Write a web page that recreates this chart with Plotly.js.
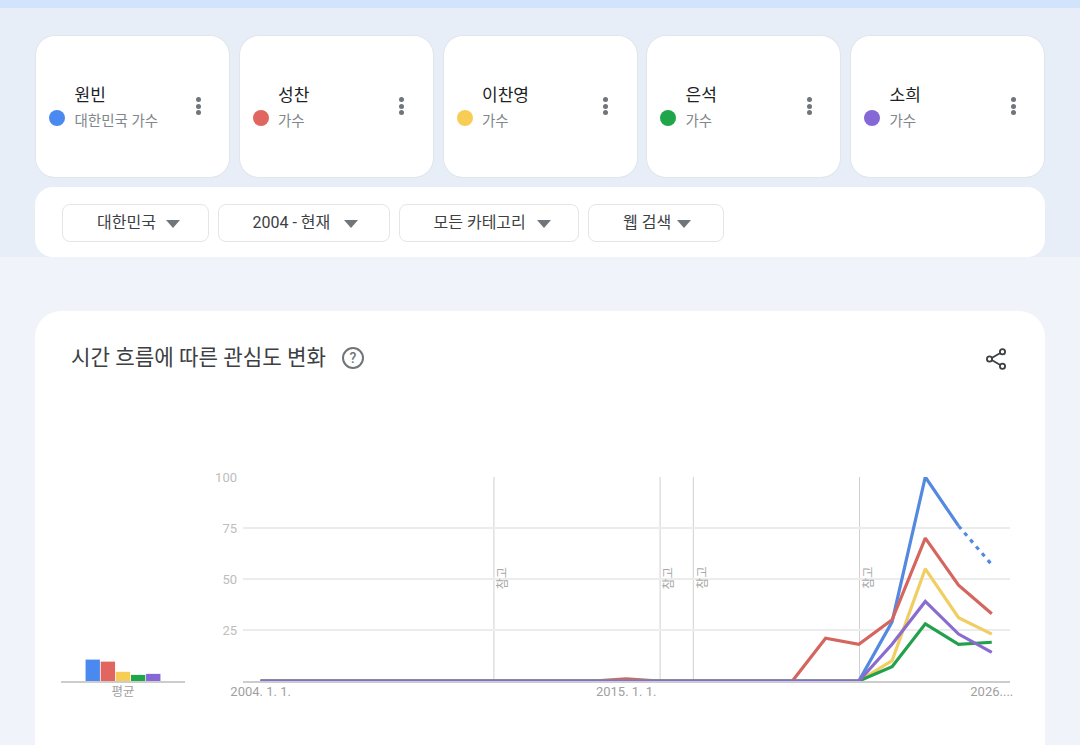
<!DOCTYPE html>
<html lang="ko">
<head>
<meta charset="utf-8">
<script src="https://cdn.plot.ly/plotly-3.0.1.min.js"></script>
<style>
html,body{margin:0;padding:0;width:1080px;height:745px;overflow:hidden;background:#f0f3f9;font-family:"Roboto","Noto Sans CJK KR",sans-serif}
.abs{position:absolute}
.card{position:absolute;top:36px;height:141px;width:193px;background:#fff;border-radius:19px;box-shadow:0 0 0 1px #e1e5ec}
.dot{position:absolute;left:13px;top:74px;width:16px;height:16px;border-radius:50%}
.nm{position:absolute;left:38.5px;top:47px;font-size:17px;line-height:24px;color:#202124;white-space:nowrap}
.sb{position:absolute;left:38.5px;top:75px;font-size:14.5px;line-height:22px;color:#80868b;white-space:nowrap}
.mn{position:absolute;left:159.5px;top:61px;width:5px;height:18px}
.mn i{display:block;width:5px;height:5px;border-radius:50%;background:#70757a;margin-bottom:1.5px}
.pill{position:absolute;top:203.5px;height:36px;background:#fff;border:1px solid #e3e5e9;border-radius:8px;color:#3c4043;font-size:16px;line-height:36px;white-space:nowrap}
.pill span{position:absolute;top:0}
.pill b{position:absolute;top:15px;width:0;height:0;border-left:7.5px solid transparent;border-right:7.5px solid transparent;border-top:8px solid #70757a}
#chart{position:absolute;left:0;top:0;width:1080px;height:745px}
</style>
</head>
<body>
<div class="abs" style="left:0;top:0;width:1080px;height:8px;background:#d2e3fc"></div>
<div class="abs" style="left:0;top:8px;width:1080px;height:249px;background:#e8eef7"></div>
<div id="cards"></div>
<div class="abs" style="left:35px;top:187px;width:1010px;height:70px;background:#fff;border-radius:18px"></div>
<div id="pills"></div>
<div class="abs" style="left:35px;top:311px;width:1010px;height:460px;background:#fff;border-radius:26px"></div>
<svg class="abs" style="left:341px;top:346px" width="24" height="24" viewBox="0 0 24 24">
  <circle cx="12" cy="12" r="10" fill="none" stroke="#70757a" stroke-width="2"/>
  <text x="12" y="17" text-anchor="middle" font-size="14" font-family="Roboto" font-weight="500" fill="#70757a">?</text>
</svg>
<svg class="abs" style="left:984px;top:347px" width="24" height="24" viewBox="0 0 24 24">
  <path d="M6 12 L18 5 M6 12 L18 19" stroke="#3c4043" stroke-width="1.8" fill="none"/>
  <circle cx="5.5" cy="12" r="2.6" fill="#fff" stroke="#3c4043" stroke-width="1.8"/>
  <circle cx="18.5" cy="4.8" r="2.6" fill="#fff" stroke="#3c4043" stroke-width="1.8"/>
  <circle cx="18.5" cy="19.2" r="2.6" fill="#fff" stroke="#3c4043" stroke-width="1.8"/>
</svg>
<div id="chart"></div>
<script>
const seriesNames = ["원빈","성찬","이찬영","은석","소희"];
const seriesSubs = ["대한민국 가수","가수","가수","가수","가수"];
const seriesColors = ["#4a8af0","#e0665f","#f8cd56","#1fa64b","#8568d6"];
const lineColors = ["#5389e0","#d4665f","#f0ce62","#23a04c","#8a6cd0"];
const filterLabels = ["대한민국","2004 - 현재","모든 카테고리","웹 검색"];
const years = [2004,2005,2006,2007,2008,2009,2010,2011,2012,2013,2014,2015,2016,2017,2018,2019,2020,2021,2022,2023,2024,2025,2026];
const wonbin   = [0,0,0,0,0,0,0,0,0,0,0,0,0,0,0,0,0,0,0,29,100,76,null];
const wonbinPartial = [null,null,null,null,null,null,null,null,null,null,null,null,null,null,null,null,null,null,null,null,null,76,57];
const seongchan= [0,0,0,0,0,0,0,0,0,0,0,1,0,0,0,0,0,21,18,30,70,47,33];
const chanyoung= [0,0,0,0,0,0,0,0,0,0,0,0,0,0,0,0,0,0,0,10,55,31,23];
const eunseok  = [0,0,0,0,0,0,0,0,0,0,0,0,0,0,0,0,0,0,0,7,28,18,19];
const sohee    = [0,0,0,0,0,0,0,0,0,0,0,0,0,0,0,0,0,0,0,18,39,23,14];
const averages = [10.5,9.5,4.5,3,3.5];
const noteYears = [2011,2016,2017,2022];
const noteLabel = "참고";
const yTicks = [25,50,75,100];
const xTickYears = [2004,2015,2026];
const xTickLabels = ["2004. 1. 1.","2015. 1. 1.","2026...."];
const avgLabel = "평균";
const chartTitle = "시간 흐름에 따른 관심도 변화";

const cardLefts = [36,239.5,443.5,647,851];
document.getElementById('cards').innerHTML = seriesNames.map((n,i)=>
 `<div class="card" style="left:${cardLefts[i]}px"><div class="dot" style="background:${seriesColors[i]}"></div>
  <div class="nm">${n}</div><div class="sb">${seriesSubs[i]}</div><div class="mn"><i></i><i></i><i></i></div></div>`).join('');
const pillGeo = [[62,147,34,103],[218,172,33.5,124.5],[399,180,33.5,136.5],[588,136,34,88]];
document.getElementById('pills').innerHTML = filterLabels.map((t,i)=>{
  const g=pillGeo[i];
  return `<div class="pill" style="left:${g[0]}px;width:${g[1]-2}px"><span style="left:${g[2]}px">${t}</span><b style="left:${g[3]}px"></b></div>`;
}).join('');

const W=1080,H=745;
const px=v=>v/W, py=v=>(H-v)/H;
const lineSeries=[wonbin,seongchan,chanyoung,eunseok,sohee];
const traces=[];
lineSeries.forEach((vals,i)=>{
  traces.push({type:'scatter',mode:'lines',x:years,y:vals,name:seriesNames[i],xaxis:'x',yaxis:'y',cliponaxis:false,
    line:{color:lineColors[i],width:3.2,shape:'linear'},hoverinfo:'skip',showlegend:false,connectgaps:false});
});
traces.splice(1,0,{type:'scatter',mode:'lines',x:years,y:wonbinPartial,name:seriesNames[0],xaxis:'x',yaxis:'y',cliponaxis:false,
    line:{color:lineColors[0],width:3.2,dash:'4px,5px'},hoverinfo:'skip',showlegend:false});
averages.forEach((v,i)=>{
  traces.push({type:'bar',x:[avgLabel],y:[v],name:seriesNames[i],xaxis:'x2',yaxis:'y2',
    marker:{color:seriesColors[i],line:{width:0}},hoverinfo:'skip',showlegend:false});
});
const fontFam='Roboto, "Noto Sans CJK KR", sans-serif';
const layout={
  width:W,height:H,margin:{l:0,r:0,t:0,b:0},paper_bgcolor:'rgba(0,0,0,0)',plot_bgcolor:'rgba(0,0,0,0)',
  showlegend:false,barmode:'group',bargap:0.39,bargroupgap:0.05,
  title:{text:chartTitle,x:px(71),xref:'paper',xanchor:'left',y:py(358),yref:'paper',yanchor:'middle',
    font:{family:fontFam,size:21.2,color:'#3c4043'}},
  xaxis:{domain:[px(243),px(1010)],range:[2004-17.6/33.2,2026+18.2/33.2],tickmode:'array',tickvals:xTickYears,ticktext:xTickLabels,
    showgrid:false,zeroline:false,showline:true,linecolor:'#cccccc',linewidth:1.5,ticks:'',ticklabelstandoff:-2,
    tickfont:{family:fontFam,size:13,color:'#a0a0a0'},tickangle:0,anchor:'y',fixedrange:true},
  yaxis:{domain:[py(681),py(477)],range:[0,100],tickmode:'array',tickvals:yTicks,showgrid:true,gridcolor:'#ececec',gridwidth:1.2,
    zeroline:false,showline:false,ticks:'',ticklabelstandoff:5,tickfont:{family:fontFam,size:13,color:'#bdbdbd'},anchor:'x',fixedrange:true},
  xaxis2:{domain:[px(61),px(185)],type:'category',showgrid:false,zeroline:false,showline:true,linecolor:'#cccccc',linewidth:1.5,
    ticks:'',ticklabelstandoff:-2,tickfont:{family:fontFam,size:12.5,color:'#a0a0a0'},anchor:'y2',fixedrange:true},
  yaxis2:{domain:[py(681),py(477)],range:[0,100],visible:false,anchor:'x2',fixedrange:true},
  shapes:noteYears.map(yr=>({type:'line',xref:'x',yref:'y',x0:yr+0.02,x1:yr+0.02,y0:0,y1:100,layer:'below',line:{color:'#d0d0d0',width:1}})),
  annotations:noteYears.map(yr=>({xref:'x',yref:'y',x:yr,y:50.5,text:noteLabel,showarrow:false,textangle:-90,xshift:9,
    font:{family:'"Noto Sans CJK KR", sans-serif',size:12,color:'#a8a8a8'}}))
};
Plotly.newPlot('chart',traces,layout,{staticPlot:true,displayModeBar:false});
</script>
</body>
</html>
